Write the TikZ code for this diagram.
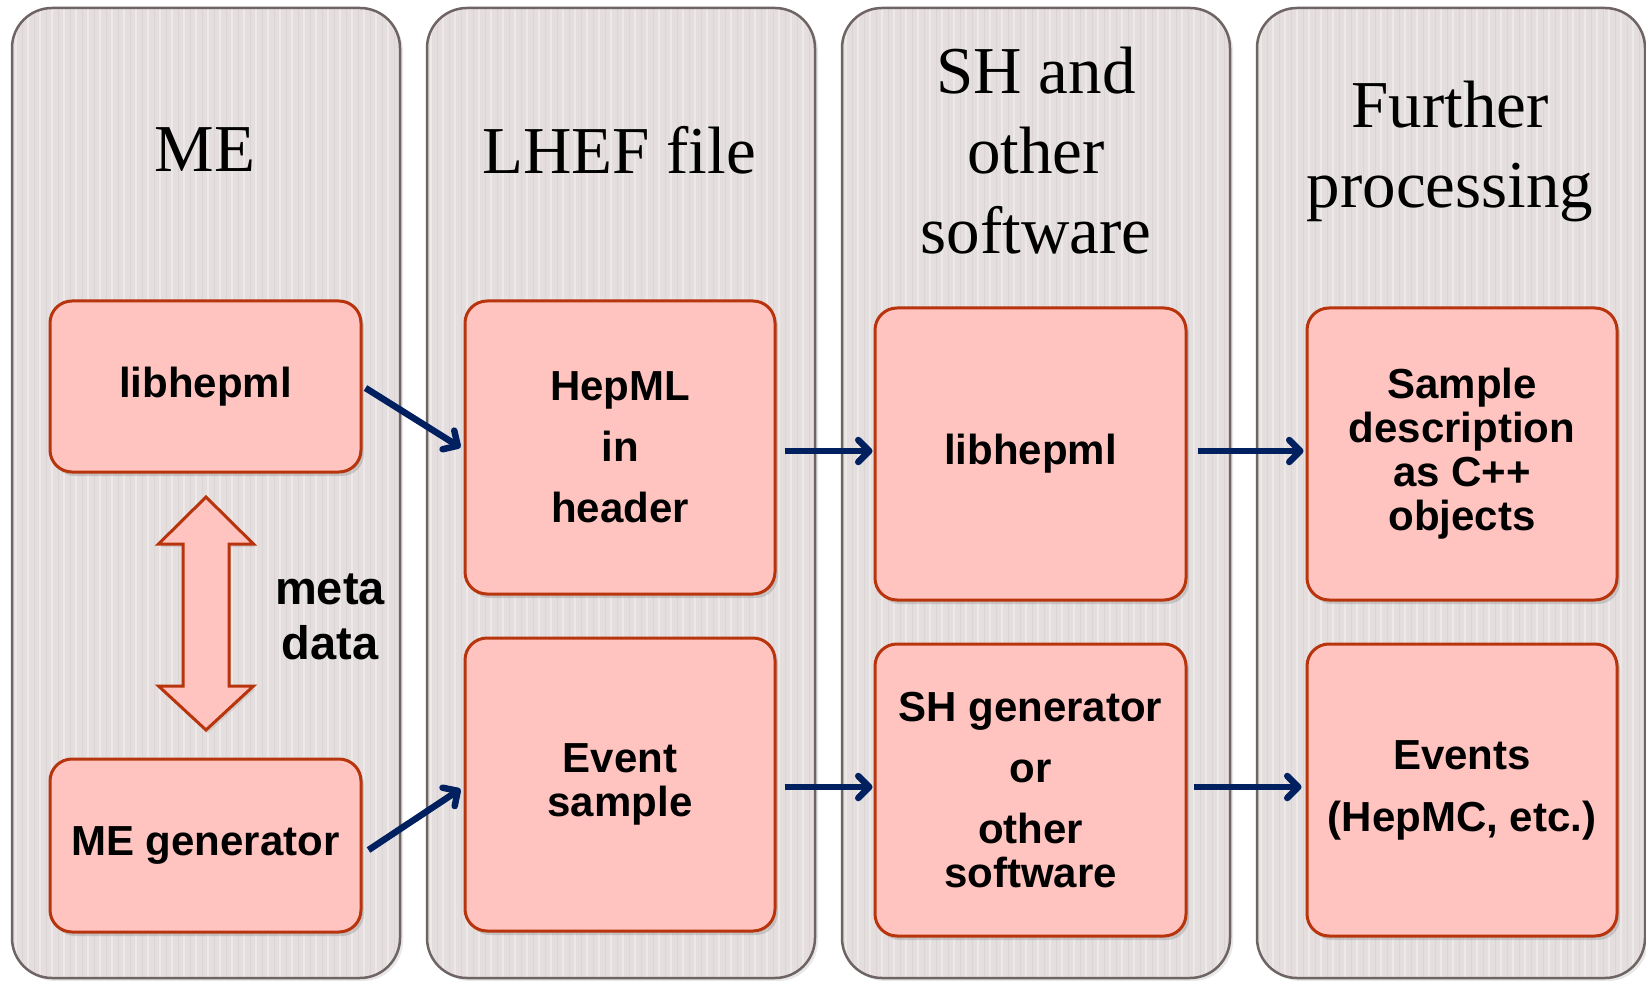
\documentclass[tikz,border=0pt]{standalone}
\usepackage{fontspec}
\setmainfont{Liberation Serif}
\setsansfont{Liberation Sans}
\usetikzlibrary{arrows.meta,shadows}
\definecolor{colfill}{RGB}{228,222,222}
\definecolor{colline}{RGB}{110,100,100}
\definecolor{boxfill}{RGB}{255,196,192}
\definecolor{boxline}{RGB}{184,52,12}
\definecolor{arrowblue}{RGB}{0,32,96}
\begin{document}
\begin{tikzpicture}[x=1pt,y=-1pt,
  column/.style={draw=colline, line width=2.5pt, fill=colfill, rounded corners=40pt,
    minimum width=388pt, minimum height=970pt, inner sep=0pt,
    drop shadow={opacity=0.18, shadow xshift=3pt, shadow yshift=-3pt},
    path picture={\foreach \i in {0,...,33}{
      \draw[white, opacity=0.35, line width=2.5pt]
        ([xshift=\i*12pt+4pt]path picture bounding box.north west) --
        ([xshift=\i*12pt+4pt]path picture bounding box.south west);
      \draw[black, opacity=0.04, line width=1pt]
        ([xshift=\i*12pt+10pt]path picture bounding box.north west) --
        ([xshift=\i*12pt+10pt]path picture bounding box.south west);}}},
  coltitle/.style={font=\fontsize{67}{80}\selectfont, align=center, text=black, inner sep=0pt},
  procbox/.style={draw=boxline, line width=3pt, fill=boxfill, rounded corners=22pt,
    inner sep=0pt, font=\sffamily\bfseries\fontsize{42}{44}\selectfont, align=center,
    drop shadow={opacity=0.3, shadow xshift=3pt, shadow yshift=-4pt}},
  dblarrow/.style={draw=boxline, line width=3pt, fill=boxfill, line join=miter,
    drop shadow={opacity=0.2, shadow xshift=2pt, shadow yshift=-3pt}},
  flow/.style={draw=arrowblue, line width=6.5pt,
    -{Straight Barb[length=11pt,width=22pt,line cap=round,line join=round]}},
  sidelabel/.style={font=\sffamily\bfseries\fontsize{47}{55}\selectfont, align=center, inner sep=0pt}
]
\useasboundingbox (0,0) rectangle (1646,981);
\fill[white] (0,0) rectangle (1646,981);

% columns
\node[column] (col1) at (206,493) {};
\node[column] (col2) at (621,493) {};
\node[column] (col3) at (1036,493) {};
\node[column] (col4) at (1451,493) {};

% column titles
\node[coltitle] (t1) at (205,150) {ME};
\node[coltitle] (t2) at (619,150) {LHEF file};
\node[coltitle] (t3) at (1036,151) {SH and\\other\\software};
\node[coltitle] (t4) at (1450,151) {Further\\processing};

% boxes
\node[procbox, minimum width=311pt, minimum height=171pt] (lib1) at (205.5,386.5) {libhepml};
\node[procbox, minimum width=311pt, minimum height=173pt] (megen) at (205.5,845.5) {ME generator};
\node[procbox, minimum width=310pt, minimum height=293pt] (hepml) at (620,447.5) {HepML\\[17pt]in\\[17pt]header};
\node[procbox, minimum width=310pt, minimum height=293pt] (event) at (620,784.5) {Event\\sample};
\node[procbox, minimum width=311pt, minimum height=292pt] (lib2) at (1030.5,454) {libhepml};
\node[procbox, minimum width=311pt, minimum height=292pt] (shgen) at (1030.5,790) {SH generator\\[17pt]or\\[17pt]other\\software};
\node[procbox, minimum width=310pt, minimum height=292pt] (sample) at (1462,454) {Sample\\description\\as C++\\objects};
\node[procbox, minimum width=310pt, minimum height=292pt] (events) at (1462,790) {Events\\[18pt](HepMC, etc.)};

% meta data double arrow
\draw[dblarrow] (206,497) -- (253.5,544) -- (229,544) -- (229,686) -- (253.5,686)
  -- (206,730) -- (158.5,686) -- (183,686) -- (183,544) -- (158.5,544) -- cycle;
\node[sidelabel] (meta) at (330,617) {meta\\data};

% connectors
\draw[flow] ([xshift=3pt,yshift=-1.5pt]lib1.east) -- ([xshift=-3pt]hepml.west);
\draw[flow] ([xshift=6pt,yshift=-4.5pt]megen.east) -- ([xshift=-3pt,yshift=-4.5pt]event.west);
\draw[flow] ([xshift=8pt,yshift=-3.5pt]hepml.east) -- ([xshift=-1pt,yshift=3pt]lib2.west);
\draw[flow] ([xshift=8pt,yshift=-2.5pt]event.east) -- ([xshift=-1pt,yshift=3pt]shgen.west);
\draw[flow] ([xshift=10pt,yshift=3pt]lib2.east) -- ([xshift=-2pt,yshift=3pt]sample.west);
\draw[flow] ([xshift=6pt,yshift=3pt]shgen.east) -- ([xshift=-4pt,yshift=3pt]events.west);
\end{tikzpicture}
\end{document}
